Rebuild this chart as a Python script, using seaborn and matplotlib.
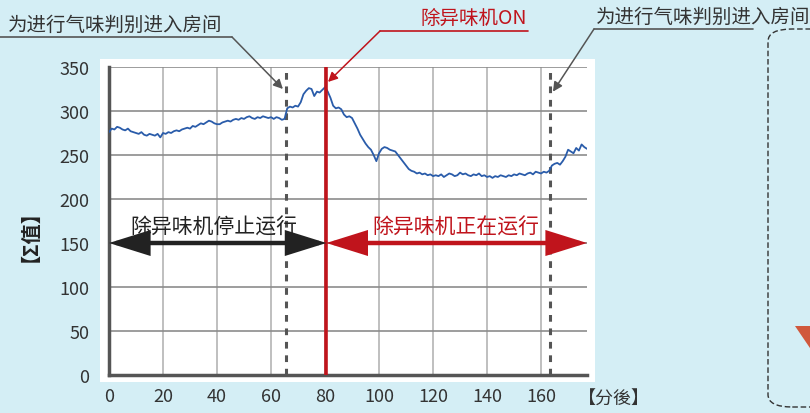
import numpy as np
import pandas as pd
import matplotlib
matplotlib.use("Agg")
import matplotlib.pyplot as plt
from matplotlib.patches import FancyArrowPatch, FancyBboxPatch, Polygon, Rectangle
from matplotlib.lines import Line2D
import seaborn as sns

# ---- data ----
minutes = list(range(0, 178))
sigma = [
    276, 280, 279, 282, 281, 279, 278, 280, 277, 276, 275,
    274, 276, 273, 272, 274, 273, 272, 274, 270, 275,
    274, 276, 275, 277, 278, 277, 279, 280, 281, 280,
    283, 282, 284, 286, 285, 287, 289, 288, 286, 285,
    285, 287, 288, 289, 288, 290, 291, 290, 292, 291,
    293, 294, 292, 291, 293, 292, 294, 293, 292, 293,
    291, 293, 292, 290, 291,
    303, 305, 304, 306, 305, 310, 319, 323, 326, 325, 317, 322, 321, 324, 327,
    322, 315, 306, 303, 304, 302, 296, 293, 294, 292,
    286, 280, 273, 268, 263, 259, 256, 250, 243,
    252, 257, 259, 258, 256, 255, 254, 250, 246, 242, 238,
    234, 232, 231, 229, 230, 228, 229, 227, 228, 226,
    227, 226, 228, 225, 227, 229, 228, 226, 227, 230,
    228, 229, 227, 226, 228, 227, 229, 226, 227, 225,
    226, 224, 226, 225, 227, 226, 225, 227, 226, 228,
    227, 229, 228, 227, 229, 230, 228, 231, 230, 229,
    231, 230, 232,
    238, 240, 241, 239, 243, 248, 256, 254, 252, 258, 255, 262, 259, 257,
]
x_ticks = [0, 20, 40, 60, 80, 100, 120, 140, 160]
y_ticks = [0, 50, 100, 150, 200, 250, 300, 350]
enter_room_times = [65.5, 163.3]
deodorizer_on = 80.5
arrow_level = 150
x_max = 177

label_enter = "为进行气味判别进入房间"
label_on = "除异味机ON"
label_stop = "除异味机停止运行"
label_run = "除异味机正在运行"
x_unit = "【分後】"
y_label = "【Σ值】"

df = pd.DataFrame({"t": minutes, "v": sigma})

BG = "#d4eef5"
BLUE = "#2a5caa"
RED = "#c0141c"
DARK = "#222222"
GREY = "#555555"

sns.set_style("white")
plt.rcParams["font.family"] = ["Noto Sans CJK SC", "DejaVu Sans"]

W, H = 810, 414
fig = plt.figure(figsize=(W / 100, H / 100), dpi=100, facecolor=BG)

# white panel behind the plot
fig.patches.append(Rectangle((100 / W, (H - 383) / H), 495 / W, 323 / H,
                             transform=fig.transFigure, facecolor="white",
                             edgecolor="none", zorder=-1))

ax = fig.add_axes([109 / W, (H - 376) / H, (587 - 109) / W, (376 - 68) / H])
ax.set_zorder(1)
ax.set_facecolor("white")

# grid
for xv in x_ticks[1:]:
    ax.axvline(xv, color="#b4b4b4", lw=1.2, zorder=1)
for yv in y_ticks[1:]:
    ax.axhline(yv, color="#8c8c8c", lw=1.2, zorder=1)

sns.lineplot(data=df, x="t", y="v", ax=ax, color=BLUE, lw=1.3, zorder=4)

for tv in enter_room_times:
    ax.axvline(tv, color=GREY, lw=2.2, ls=(0, (2.2, 2.2)), zorder=3)
ax.axvline(deodorizer_on, color=RED, lw=2.6, zorder=5)

# range arrows
span_style = "<|-|>,head_length=1.15,head_width=0.36"
for (a, b), col in [((0, deodorizer_on), DARK), ((deodorizer_on, x_max), RED)]:
    ax.add_patch(FancyArrowPatch((a, arrow_level), (b, arrow_level),
                                 arrowstyle=span_style, mutation_scale=20,
                                 lw=3.2, color=col, joinstyle="miter",
                                 capstyle="butt", shrinkA=0, shrinkB=0,
                                 zorder=6))
ax.text(39, arrow_level + 6, label_stop, ha="center", va="bottom",
        fontsize=15, color=DARK, zorder=7)
ax.text(128.5, arrow_level + 6, label_run, ha="center", va="bottom",
        fontsize=15, color=RED, zorder=7)

ax.set_xlim(0, x_max)
ax.set_ylim(0, 350)
ax.set_xticks(x_ticks)
ax.set_yticks(y_ticks)
ax.tick_params(axis="both", length=0, labelsize=13, labelcolor="#333333")
ax.tick_params(axis="y", pad=14)
ax.tick_params(axis="x", pad=9)
ax.set_xlabel("")
ax.set_ylabel("")
for side in ["top", "right"]:
    ax.spines[side].set_visible(False)
for side in ["left", "bottom"]:
    ax.spines[side].set_color("#555555")
    ax.spines[side].set_linewidth(2.5)

fig.text(578 / W, (H - 400) / H, x_unit, ha="left", va="center",
         fontsize=13, color="#333333")
fig.text(19 / W, (H - 226) / H, y_label, ha="center", va="center",
         rotation=90, fontsize=14.5, color=DARK, fontweight="bold")

arrow_kw = dict(arrowstyle="-|>", lw=1.1, mutation_scale=14, shrinkA=0, shrinkB=0)

# left callout: leader starts at right end of underline
fig.text(8 / W, (H - 25) / H, label_enter, ha="left", va="center",
         fontsize=14, color="#333333")
fig.lines.append(Line2D([0, 232 / W], [(H - 38) / H] * 2,
                        transform=fig.transFigure, color=GREY, lw=1.2))
ax.annotate("", xy=(64.4, 325), xycoords="data", xytext=(232, H - 38),
            textcoords="figure pixels", arrowprops=dict(color=GREY, **arrow_kw),
            annotation_clip=False)

# red callout
fig.text(421 / W, (H - 18) / H, label_on, ha="left", va="center",
         fontsize=14, color=RED)
fig.lines.append(Line2D([380 / W, 528 / W], [(H - 32) / H] * 2,
                        transform=fig.transFigure, color=RED, lw=1.2))
ax.annotate("", xy=(81.1, 333), xycoords="data", xytext=(380, H - 32),
            textcoords="figure pixels", arrowprops=dict(color=RED, **arrow_kw),
            annotation_clip=False)

# right callout
fig.text(596 / W, (H - 17) / H, label_enter, ha="left", va="center",
         fontsize=14, color="#333333")
fig.lines.append(Line2D([594 / W, 753 / W], [(H - 30) / H] * 2,
                        transform=fig.transFigure, color=GREY, lw=1.2))
ax.annotate("", xy=(164.4, 322), xycoords="data", xytext=(594, H - 30),
            textcoords="figure pixels", arrowprops=dict(color=GREY, **arrow_kw),
            annotation_clip=False)

# cut-off neighbouring panel on the right
fig.patches.append(FancyBboxPatch((768 / W, (H - 408) / H), 80 / W, 378 / H,
                                  boxstyle="round,pad=0,rounding_size=0.03",
                                  transform=fig.transFigure, facecolor="none",
                                  edgecolor="#333333", lw=1.0, ls=(0, (4, 2))))
fig.patches.append(Polygon([(795 / W, (H - 327) / H), (830 / W, (H - 327) / H),
                            (812 / W, (H - 352) / H)], closed=True,
                           transform=fig.transFigure, facecolor="#d0583c",
                           edgecolor="none"))

fig.savefig("out.png", dpi=100, facecolor=BG)
